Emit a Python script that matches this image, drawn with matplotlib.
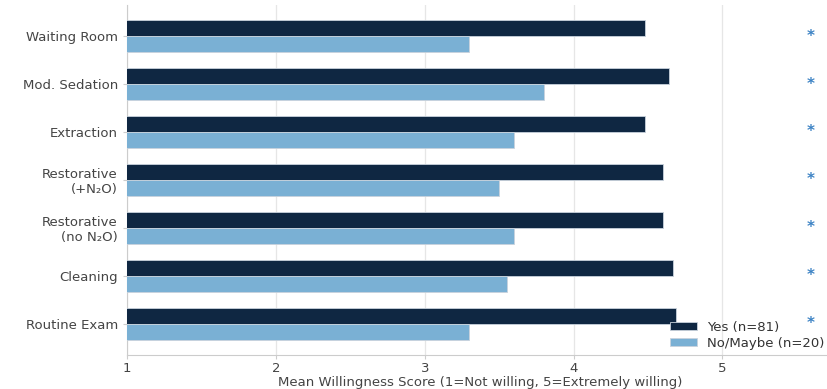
import matplotlib
matplotlib.use("Agg")
import matplotlib.pyplot as plt
import numpy as np

categories = ["Routine Exam", "Cleaning", "Restorative\n(no N\u2082O)", "Restorative\n(+N\u2082O)",
              "Extraction", "Mod. Sedation", "Waiting Room"]
yes_scores = [4.69, 4.67, 4.60, 4.60, 4.48, 4.64, 4.48]
no_scores = [3.30, 3.55, 3.60, 3.50, 3.60, 3.80, 3.30]
significant = [True, True, True, True, True, True, True]

fig = plt.figure(figsize=(8.27, 3.89), dpi=100)
ax = fig.add_axes([0.1536, 0.0874, 0.855, 0.90])

y = np.arange(len(categories))
h = 0.34
ax.barh(y + h / 2, yes_scores, h, left=0, color='#0f2742', edgecolor='#c8d2dc', linewidth=0.6, label='Yes (n=81)', zorder=3)
ax.barh(y - h / 2, no_scores, h, left=0, color='#7ab0d4', edgecolor='#c8d2dc', linewidth=0.6, label='No/Maybe (n=20)', zorder=3)

for i, s in enumerate(significant):
    if s:
        ax.text(5.59, y[i], '*', color='#3b82c4', fontsize=11, fontweight='bold', ha='center', va='center')

fs = 9.5
ax.set_xlim(1, 5.75)
ax.set_ylim(-0.65, 6.65)
ax.set_xticks([1, 2, 3, 4, 5])
ax.set_yticks(y)
ax.set_yticklabels(categories)
ax.tick_params(axis='both', labelsize=fs, colors='#cccccc', labelcolor='#444444', length=3, width=0.8)
ax.tick_params(axis='x', pad=2)
ax.grid(axis='x', color='#e6e6e6', linewidth=0.9, zorder=0)
ax.set_axisbelow(True)
for side in ['top', 'right']:
    ax.spines[side].set_visible(False)
for side in ['left', 'bottom']:
    ax.spines[side].set_color('#cccccc')
ax.set_xlabel("Mean Willingness Score (1=Not willing, 5=Extremely willing)", fontsize=fs, color='#444444', labelpad=1)

ax.legend(loc='lower left', bbox_to_anchor=(0.758, -0.004), frameon=False, fontsize=fs, borderpad=0,
          handlelength=2.05, handleheight=0.55, handletextpad=0.8, labelspacing=0.25, labelcolor='#333333')

fig.savefig("out.png", dpi=100)
